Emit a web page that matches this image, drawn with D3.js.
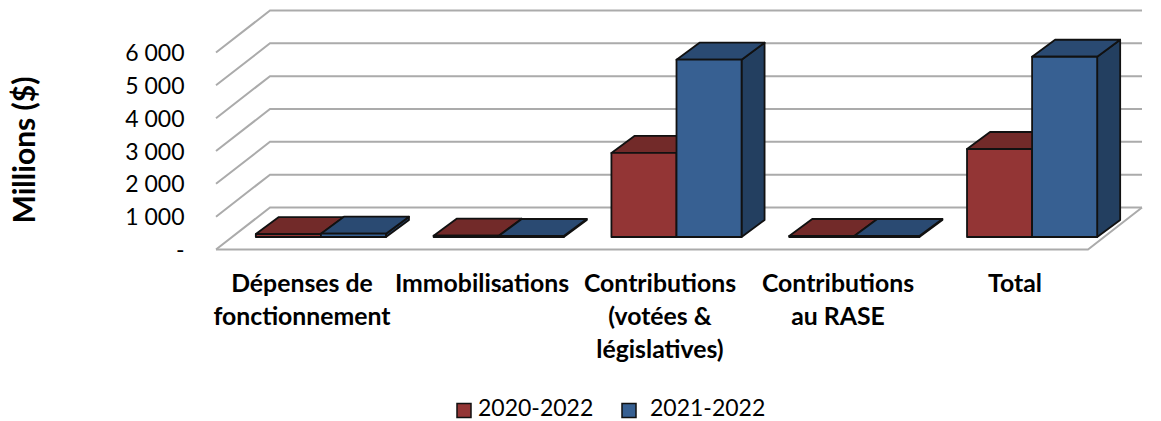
<!DOCTYPE html>
<html lang="fr">
<head>
<meta charset="utf-8">
<script src="https://cdn.jsdelivr.net/npm/d3@7/dist/d3.min.js"></script>
<style>
  html, body { margin: 0; padding: 0; background: #fff; }
  svg { display: block; font-family: Lato, "Open Sans", sans-serif; }
</style>
</head>
<body>
<svg id="chart" width="1161" height="421"></svg>
<script>
const categories = ["Dépenses de fonctionnement", "Immobilisations", "Contributions (votées & législatives)", "Contributions au RASE", "Total"];
const categoryLines = [["Dépenses de", "fonctionnement"], ["Immobilisations"], ["Contributions", "(votées &", "législatives)"], ["Contributions", "au RASE"], ["Total"]];
const seriesNames = ["2020-2022", "2021-2022"];
const values2020 = [90, 40, 2560, 30, 2680];
const values2021 = [100, 30, 5400, 30, 5490];
const yTicks = [0, 1000, 2000, 3000, 4000, 5000, 6000];

const seriesValues = [values2020, values2021];
const faceColors = [
  { front: "#933535", top: "#722a29", side: "#722a29" },
  { front: "#376092", top: "#2a4a72", side: "#233f60" }
];

const svg = d3.select("#chart");

// Front floor edge and wall depth of the pseudo-3D plot box
const floorLeft = 216, floorRight = 1088;
const wallDx = 54, wallDy = -42;
const y = d3.scaleLinear().domain([0, 6000]).range([249.5, 52.5]);

// Bars stand inside the box, so their front face is pushed back from the floor edge
const barLift = 12.5, barDx = 23, barDy = -17;
const x = d3.scaleBand().domain(categories).range([232, 1121]).paddingInner(0.268).paddingOuter(0.134);
const xInner = d3.scaleBand().domain(seriesNames).range([0, x.bandwidth()]);

const thousands = v => v === 0 ? "-" : d3.format(",")(v).replace(",", " ");

// Gridlines: one slanted segment on the left wall, one long line on the back wall
const grid = svg.append("g").attr("fill", "none").attr("stroke", "#ababab").attr("stroke-width", 2);
yTicks.forEach(t => {
  const yf = y(t);
  grid.append("path").attr("d", d3.line()([[floorLeft, yf], [floorLeft + wallDx, yf + wallDy], [floorRight + wallDx, yf + wallDy]]));
});
// Floor front edge and right-hand floor edge
grid.append("path").attr("d", d3.line()([[floorLeft, y(0)], [floorRight, y(0)], [floorRight + wallDx, y(0) + wallDy]]));

// Value axis labels
const yAxis = d3.axisLeft(y).tickValues(yTicks).tickSize(0).tickPadding(0).tickFormat(thousands);
const axisG = svg.append("g").attr("transform", "translate(184.5,0)").call(yAxis);
axisG.select(".domain").remove();
axisG.selectAll("text").attr("font-size", 23).attr("font-family", "Lato, sans-serif").attr("fill", "#000").attr("dy", "0.35em");

// Bars: drawn group by group, series in order, so each blue bar overlaps its red neighbour
const bars = svg.append("g").attr("stroke", "#111").attr("stroke-width", 1.8).attr("stroke-linejoin", "round");
categories.forEach((cat, c) => {
  seriesNames.forEach((name, s) => {
    const v = seriesValues[s][c];
    const x0 = x(cat) + xInner(name), x1 = x0 + xInner.bandwidth();
    const yBase = y(0) - barLift, yTop = y(v) - barLift;
    const g = bars.append("g");
    const poly = (pts, fill) => g.append("polygon").attr("points", pts.map(p => p.join(",")).join(" ")).attr("fill", fill);
    poly([[x1, yBase], [x1 + barDx, yBase + barDy], [x1 + barDx, yTop + barDy], [x1, yTop]], faceColors[s].side);
    poly([[x0, yTop], [x0 + barDx, yTop + barDy], [x1 + barDx, yTop + barDy], [x1, yTop]], faceColors[s].top);
    poly([[x0, yBase], [x1, yBase], [x1, yTop], [x0, yTop]], faceColors[s].front);
  });
});

// Category labels, wrapped by hand
const labelX = [302, 482, 660, 838, 1015];
const catLabels = svg.append("g").attr("font-size", 24.8).attr("font-weight", 700).attr("text-anchor", "middle").attr("fill", "#000");
categoryLines.forEach((lines, i) => {
  const t = catLabels.append("text").attr("y", 292);
  lines.forEach((line, j) => {
    t.append("tspan").attr("x", labelX[i]).attr("dy", j === 0 ? 0 : 33).text(line);
  });
});

// Axis title
svg.append("text")
  .attr("transform", "translate(35,150) rotate(-90)")
  .attr("text-anchor", "middle")
  .attr("font-size", 30).attr("font-weight", 700).attr("fill", "#000")
  .text("Millions ($)");

// Legend
const legendX = [457, 622];
const legendTextX = [478, 650];
const legend = svg.append("g");
seriesNames.forEach((name, s) => {
  legend.append("rect").attr("x", legendX[s]).attr("y", 403.5).attr("width", 14).attr("height", 14)
    .attr("fill", faceColors[s].front).attr("stroke", "#111").attr("stroke-width", 1.5);
  legend.append("text").attr("x", legendTextX[s]).attr("y", 416).attr("font-size", 23).attr("fill", "#000").text(name);
});
</script>
</body>
</html>
